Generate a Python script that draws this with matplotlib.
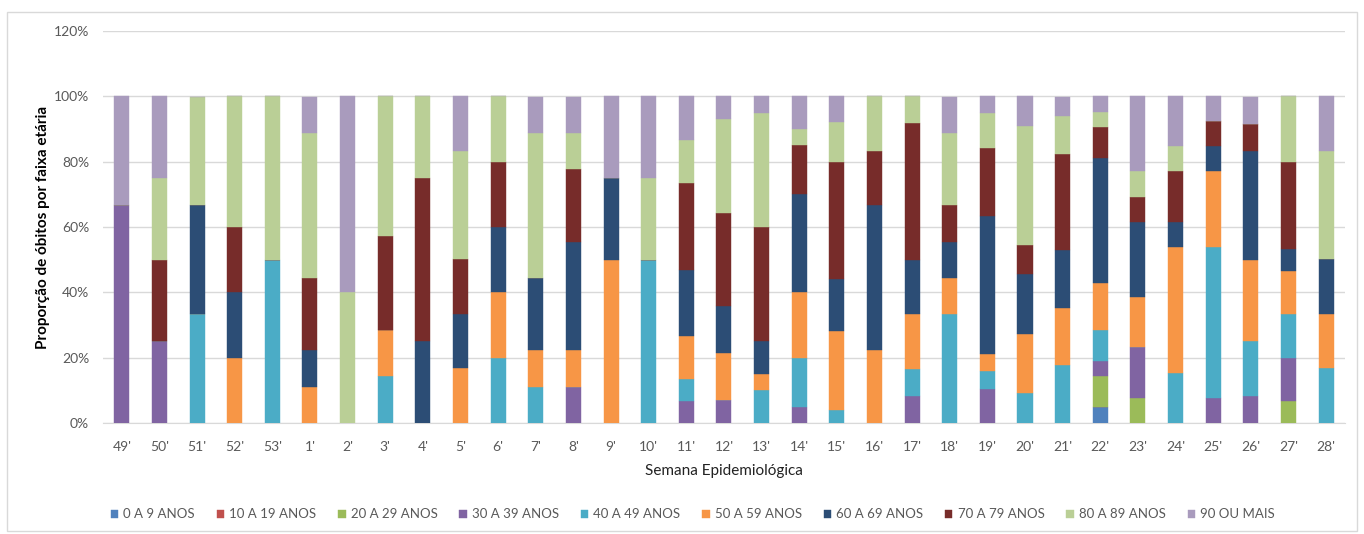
import matplotlib
matplotlib.use("Agg")
import matplotlib.pyplot as plt
from matplotlib.patches import Rectangle
from matplotlib.ticker import FuncFormatter
import numpy as np

plt.rcParams['font.family'] = ['Lato', 'DejaVu Sans']

# Semanas epidemiológicas
semanas = ["49'", "50'", "51'", "52'", "53'", "1'", "2'", "3'", "4'", "5'", "6'",
           "7'", "8'", "9'", "10'", "11'", "12'", "13'", "14'", "15'", "16'", "17'",
           "18'", "19'", "20'", "21'", "22'", "23'", "24'", "25'", "26'", "27'", "28'"]

faixas = ["0 A 9 ANOS", "10 A 19 ANOS", "20 A 29 ANOS", "30 A 39 ANOS", "40 A 49 ANOS",
          "50 A 59 ANOS", "60 A 69 ANOS", "70 A 79 ANOS", "80 A 89 ANOS", "90 OU MAIS"]

cores = ["#4F81BD", "#C0504D", "#9BBB59", "#8064A2", "#4BACC6",
         "#F79646", "#2C4D75", "#772C2A", "#BACF96", "#A99BBD"]

# proporção (%) por faixa etária, uma lista por faixa, na ordem das semanas
p_0_9 = [0, 0, 0, 0, 0, 0, 0, 0, 0, 0, 0, 0, 0, 0, 0, 0, 0, 0, 0, 0, 0, 0, 0, 0, 0, 0,
         4.8, 0, 0, 0, 0, 0, 0]
p_10_19 = [0] * 33
p_20_29 = [0, 0, 0, 0, 0, 0, 0, 0, 0, 0, 0, 0, 0, 0, 0, 0, 0, 0, 0, 0, 0, 0, 0, 0, 0, 0,
           9.5, 7.7, 0, 0, 0, 6.7, 0]
p_30_39 = [66.7, 25, 0, 0, 0, 0, 0, 0, 0, 0, 0, 0, 11.1, 0, 0, 6.7, 7.1, 0, 5, 0, 0, 8.3,
           0, 10.5, 0, 0, 4.8, 15.4, 0, 7.7, 8.3, 13.3, 0]
p_40_49 = [0, 0, 33.3, 0, 50, 0, 0, 14.3, 0, 0, 20, 11.1, 0, 0, 50, 6.7, 0, 10, 15, 4, 0,
           8.3, 33.3, 5.3, 9.1, 17.6, 9.5, 0, 15.4, 46.2, 16.7, 13.3, 16.7]
p_50_59 = [0, 0, 0, 20, 0, 11.1, 0, 14.3, 0, 16.7, 20, 11.1, 11.1, 50, 0, 13.3, 14.3, 5,
           20, 24, 22.2, 16.7, 11.1, 5.3, 18.2, 17.6, 14.3, 15.4, 38.5, 23.1, 25, 13.3, 16.7]
p_60_69 = [0, 0, 33.3, 20, 0, 11.1, 0, 0, 25, 16.7, 20, 22.2, 33.3, 25, 0, 20, 14.3, 10,
           30, 16, 44.4, 16.7, 11.1, 42.1, 18.2, 17.6, 38.1, 23.1, 7.7, 7.7, 33.3, 6.7, 16.7]
p_70_79 = [0, 25, 0, 20, 0, 22.2, 0, 28.6, 50, 16.7, 20, 0, 22.2, 0, 0, 26.7, 28.6, 35,
           15, 36, 16.7, 41.7, 11.1, 21.1, 9.1, 29.4, 9.5, 7.7, 15.4, 7.7, 8.3, 26.7, 0]
p_80_89 = [0, 25, 33.3, 40, 50, 44.4, 40, 42.9, 25, 33.3, 20, 44.4, 11.1, 0, 25, 13.3,
           28.6, 35, 5, 12, 16.7, 8.3, 22.2, 10.5, 36.4, 11.8, 4.8, 7.7, 7.7, 0, 0, 20, 33.3]
p_90 = [33.3, 25, 0, 0, 0, 11.1, 60, 0, 0, 16.7, 0, 11.1, 11.1, 25, 25, 13.3, 7.1, 5,
        10, 8, 0, 0, 11.1, 5.3, 9.1, 5.9, 4.8, 23.1, 15.4, 7.7, 8.3, 0, 16.7]

series = [p_0_9, p_10_19, p_20_29, p_30_39, p_40_49, p_50_59, p_60_69, p_70_79, p_80_89, p_90]

fig = plt.figure(figsize=(13.64, 5.34), dpi=100)
ax = fig.add_axes([0.0755, 0.208, 0.9105, 0.734])

# borda da área do gráfico
fig.patches.append(Rectangle((0.005, 0.006), 0.99, 0.972, transform=fig.transFigure,
                             fill=False, edgecolor='#D9D9D9', linewidth=1))

x = np.arange(len(semanas))
base = np.zeros(len(semanas))
for nome, valores, cor in zip(faixas, series, cores):
    v = np.array(valores, dtype=float)
    ax.bar(x, v, width=0.4, bottom=base, color=cor, label=nome, zorder=3,
           edgecolor=cor, linewidth=0.3)
    base += v

ax.set_xlim(-0.5, len(semanas) - 0.5)
ax.set_ylim(0, 120)
ax.set_yticks(np.arange(0, 121, 20))
ax.yaxis.set_major_formatter(FuncFormatter(lambda v, p: f'{v:.0f}%'))
ax.grid(axis='y', color='#D9D9D9', linewidth=1, zorder=0)
ax.set_xticks(x)
ax.set_xticklabels(semanas)

for s in ['top', 'right', 'left']:
    ax.spines[s].set_visible(False)
ax.spines['bottom'].set_color('#D9D9D9')
ax.tick_params(axis='both', length=0, labelsize=10, colors='#595959')
ax.tick_params(axis='x', pad=13)
ax.tick_params(axis='y', pad=10)

ax.set_xlabel('Semana Epidemiológica', fontsize=11, color='#222222', labelpad=8)
ax.set_ylabel('Proporção de óbitos por faixa etária', fontsize=11, fontweight='bold',
              color='black', labelpad=3)

leg = fig.legend(loc='center', bbox_to_anchor=(0.508, 0.037), ncol=10, frameon=False,
                 fontsize=9.5, handlelength=0.55, handleheight=0.55, handletextpad=0.4,
                 columnspacing=1.65)
for t in leg.get_texts():
    t.set_color('#595959')

fig.savefig('out.png', dpi=100)
